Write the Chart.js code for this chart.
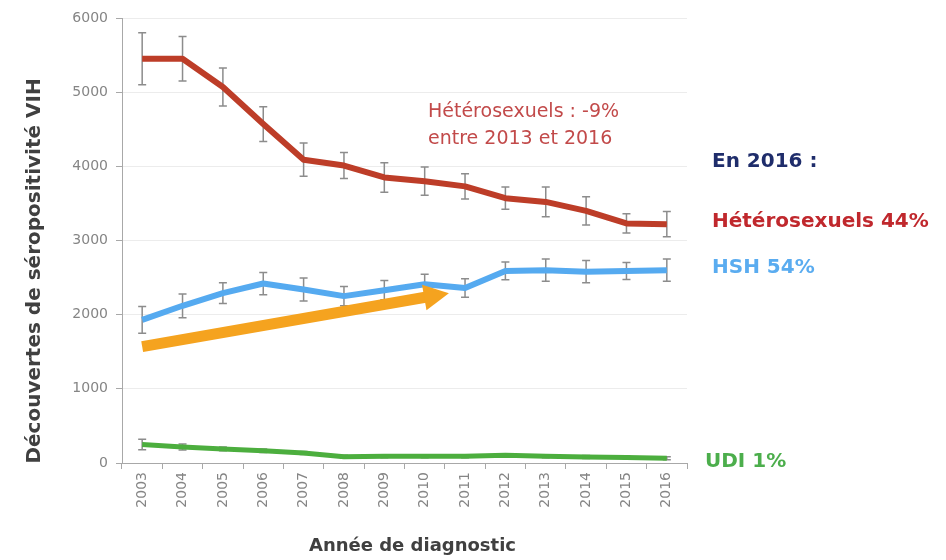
<!DOCTYPE html>
<html lang="fr">
<head>
<meta charset="utf-8">
<title>Découvertes de séropositivité VIH</title>
<script src="https://cdn.jsdelivr.net/npm/chart.js@4.4.1/dist/chart.umd.min.js"></script>
<style>
  html, body { margin: 0; padding: 0; background: #fff; }
  #wrap { width: 946px; height: 560px; position: relative; }
</style>
</head>
<body>
<div id="wrap"><canvas id="chart-vih"></canvas></div>
<script>
'use strict';

/* ── Data ───────────────────────────────────────────────────── */
const years = ['2003', '2004', '2005', '2006', '2007', '2008', '2009',
               '2010', '2011', '2012', '2013', '2014', '2015', '2016'];

const hetero    = [5450, 5450, 5070, 4570, 4090, 4010, 3850, 3800, 3730, 3570, 3520, 3400, 3230, 3220];
const heteroErr = [ 350,  300,  255,  235,  225,  175,  200,  190,  170,  150,  200,  190,  130,  170];

const hsh    = [1930, 2120, 2290, 2420, 2340, 2250, 2330, 2410, 2360, 2590, 2600, 2580, 2590, 2600];
const hshErr = [ 180,  160,  140,  150,  155,  130,  130,  135,  125,  120,  150,  150,  115,  150];

const udi    = [250, 215, 190, 165, 135, 85, 90, 90, 90, 105, 90, 80, 75, 65];
const udiErr = [ 70,  40,  25,  25,  20, 20, 20, 20, 20,  20, 20, 20, 20, 20];

const yTicks = [0, 1000, 2000, 3000, 4000, 5000, 6000];

// trend arrow: [category index, value]
const trendStart = [0, 1570];
const trendEnd   = [7.6, 2290];

const COLORS = {
    hetero: '#bd3d28',
    hsh: '#55aaf0',
    udi: '#4cae3e',
    arrow: '#f5a31f',
    err: '#8c8c8c',
    axis: '#a8a8a8',
    tick: '#858585',
};

const FONT = '"DejaVu Sans", Verdana, sans-serif';

/* ── Error bars (behind the lines) ──────────────────────────── */
const errorBars = {
    id: 'errorBars',
    beforeDatasetsDraw(chart) {
        const { ctx, scales: { x, y } } = chart;
        ctx.save();
        ctx.strokeStyle = COLORS.err;
        ctx.lineWidth = 1.5;
        chart.data.datasets.forEach(ds => {
            ds.data.forEach((v, i) => {
                const e = ds.err[i];
                const px = x.getPixelForValue(i);
                const top = y.getPixelForValue(v + e);
                const bot = y.getPixelForValue(v - e);
                ctx.beginPath();
                ctx.moveTo(px, top); ctx.lineTo(px, bot);
                ctx.moveTo(px - 4, top); ctx.lineTo(px + 4, top);
                ctx.moveTo(px - 4, bot); ctx.lineTo(px + 4, bot);
                ctx.stroke();
            });
        });
        ctx.restore();
    }
};

/* ── Orange trend arrow ─────────────────────────────────────── */
const trendArrow = {
    id: 'trendArrow',
    afterDatasetsDraw(chart) {
        const { ctx, scales: { x, y } } = chart;
        const x1 = x.getPixelForValue(trendStart[0]), y1 = y.getPixelForValue(trendStart[1]);
        const x2 = x.getPixelForValue(trendEnd[0]),   y2 = y.getPixelForValue(trendEnd[1]);
        const ang = Math.atan2(y2 - y1, x2 - x1);
        const headLen = 25, headHalf = 13;
        const bx = x2 - headLen * Math.cos(ang), by = y2 - headLen * Math.sin(ang);
        ctx.save();
        ctx.strokeStyle = COLORS.arrow;
        ctx.fillStyle = COLORS.arrow;
        ctx.lineWidth = 11;
        ctx.lineCap = 'butt';
        ctx.beginPath();
        ctx.moveTo(x1, y1);
        ctx.lineTo(bx + Math.cos(ang), by + Math.sin(ang));
        ctx.stroke();
        ctx.beginPath();
        ctx.moveTo(x2, y2);
        ctx.lineTo(bx + headHalf * Math.sin(ang), by - headHalf * Math.cos(ang));
        ctx.lineTo(bx - headHalf * Math.sin(ang), by + headHalf * Math.cos(ang));
        ctx.closePath();
        ctx.fill();
        ctx.restore();
    }
};

/* ── Titles and side notes ──────────────────────────────────── */
const notes = {
    id: 'notes',
    afterDraw(chart) {
        const { ctx, chartArea } = chart;
        ctx.save();
        ctx.textBaseline = 'middle';

        // axis titles
        ctx.fillStyle = '#404040';
        ctx.font = `bold 18px ${FONT}`;
        ctx.textAlign = 'center';
        ctx.fillText('Année de diagnostic', (chartArea.left + chartArea.right) / 2 + 8, 546);
        ctx.save();
        ctx.translate(35, 271);
        ctx.rotate(-Math.PI / 2);
        ctx.font = `bold 20px ${FONT}`;
        ctx.fillText('Découvertes de séropositivité VIH', 0, 0);
        ctx.restore();

        // in-plot note
        ctx.textAlign = 'left';
        ctx.font = `19px ${FONT}`;
        ctx.fillStyle = '#c24a4a';
        ctx.fillText('Hétérosexuels : -9%', 428, 112);
        ctx.fillText('entre 2013 et 2016', 428, 139);

        // right-hand legend
        ctx.font = `bold 20px ${FONT}`;
        ctx.fillStyle = '#1f2d6b';
        ctx.fillText('En 2016 :', 712, 162);
        ctx.fillStyle = '#c0282d';
        ctx.fillText('Hétérosexuels 44%', 712, 222);
        ctx.fillStyle = '#5aacf0';
        ctx.fillText('HSH 54%', 712, 268);
        ctx.fillStyle = '#4cae4c';
        ctx.fillText('UDI 1%', 705, 462);
        ctx.restore();
    }
};

/* ── Chart ──────────────────────────────────────────────────── */
const line = (label, data, err, color, width) => ({
    label, data, err,
    borderColor: color,
    backgroundColor: color,
    borderWidth: width,
    borderJoinStyle: 'round',
    pointRadius: 0,
    tension: 0,
    fill: false,
});

new Chart(document.getElementById('chart-vih'), {
    type: 'line',
    data: {
        labels: years,
        datasets: [
            line('UDI', udi, udiErr, COLORS.udi, 5),
            line('HSH', hsh, hshErr, COLORS.hsh, 6),
            line('Hétérosexuels', hetero, heteroErr, COLORS.hetero, 6),
        ]
    },
    options: {
        responsive: true, maintainAspectRatio: false,
        animation: false,
        layout: { padding: { top: 18, right: 259, left: 0, bottom: 0 } },
        scales: {
            x: {
                offset: true,
                grid: { offset: true, drawOnChartArea: false, drawTicks: true, tickLength: 6, color: COLORS.axis },
                border: { color: COLORS.axis },
                ticks: { color: COLORS.tick, font: { family: FONT, size: 14 }, minRotation: 90, maxRotation: 90, padding: 3, autoSkip: false },
                afterFit: s => { s.height = 97; }
            },
            y: {
                min: 0, max: 6000,
                afterBuildTicks: s => { s.ticks = yTicks.map(v => ({ value: v })); },
                grid: { color: '#ececec', tickColor: COLORS.axis, tickLength: 6 },
                border: { color: COLORS.axis },
                ticks: { color: COLORS.tick, font: { family: FONT, size: 14 }, padding: 8, callback: v => String(v) },
                afterFit: s => { s.width = 122; }
            }
        },
        plugins: {
            legend: { display: false },
            tooltip: { enabled: false }
        }
    },
    plugins: [errorBars, trendArrow, notes]
});
</script>
</body>
</html>
